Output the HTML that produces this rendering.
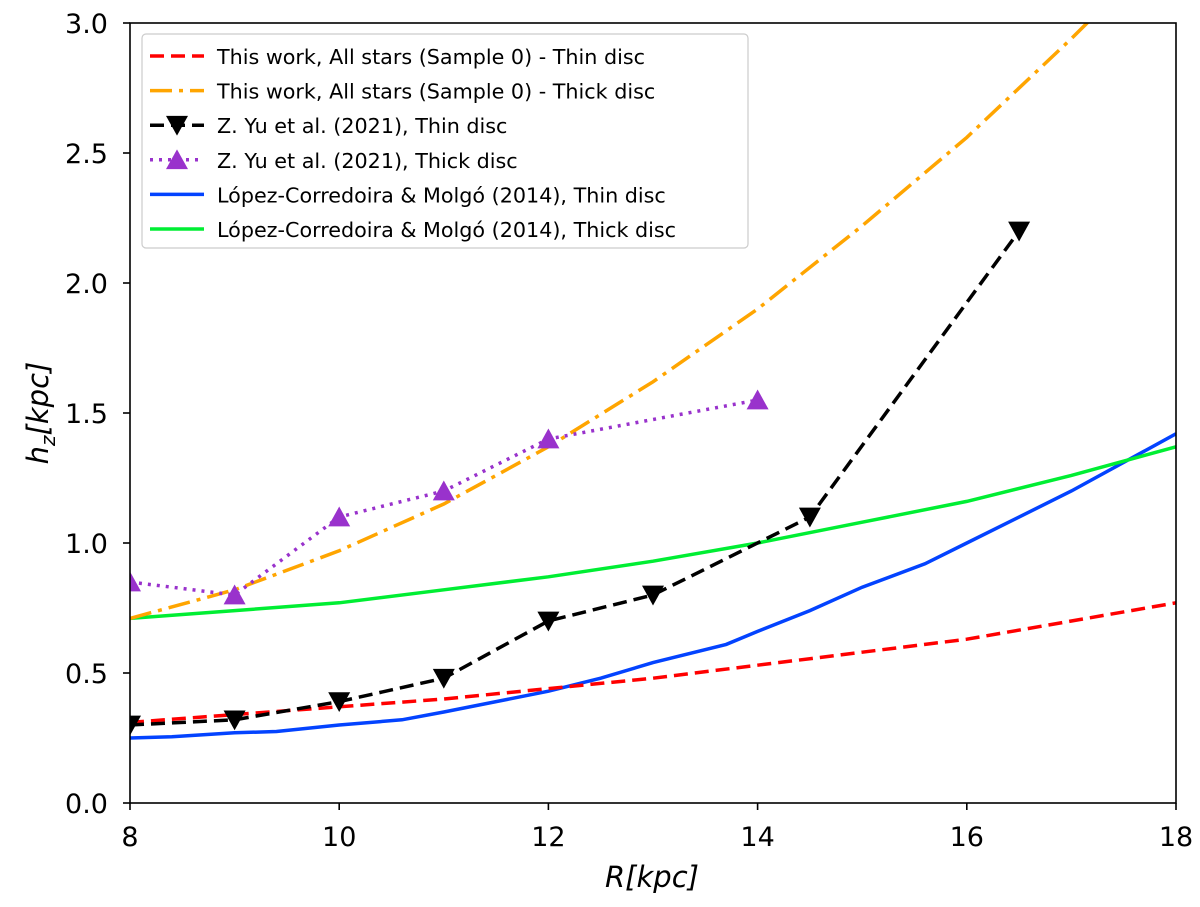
<!DOCTYPE html>
<html><head><meta charset="utf-8"><style>
body{margin:0;background:#fff}
svg text{font-family:"DejaVu Sans","Liberation Sans",sans-serif}
</style></head><body>
<svg id="chart" width="1200" height="902" viewBox="0 0 1200 902" xmlns="http://www.w3.org/2000/svg">
<g id="plot"></g>
<g id="axes"></g>
<g id="legend"></g>
</svg>
<script>
const xTicks=[8,10,12,14,16,18];
const yTicks=[0.0,0.5,1.0,1.5,2.0,2.5,3.0];
const redX=[8,9,10,11,12,13,14,15,16,17,18];
const redY=[0.31,0.34,0.37,0.40,0.44,0.48,0.53,0.58,0.63,0.70,0.77];
const orangeX=[8,9,10,11,12,13,14,15,16,17,17.2];
const orangeY=[0.71,0.82,0.97,1.15,1.37,1.62,1.90,2.22,2.56,2.94,3.02];
const blackX=[8,9,10,11,12,13,14.5,16.5];
const blackY=[0.30,0.32,0.39,0.48,0.70,0.80,1.10,2.20];
const purpleX=[8,9,10,11,12,14];
const purpleY=[0.85,0.80,1.10,1.20,1.40,1.55];
const blueX=[8,8.4,9,9.4,10,10.6,11,12,12.5,13,13.7,14,14.5,15,15.6,16,17,18];
const blueY=[0.25,0.255,0.27,0.275,0.30,0.32,0.35,0.43,0.48,0.54,0.61,0.66,0.74,0.83,0.92,1.0,1.20,1.42];
const greenX=[8,9,10,11,12,13,14,15,16,17,18];
const greenY=[0.71,0.74,0.77,0.82,0.87,0.93,1.0,1.08,1.16,1.26,1.37];
const legendLabels=["This work, All stars (Sample 0) - Thin disc","This work, All stars (Sample 0) - Thick disc","Z. Yu et al. (2021), Thin disc","Z. Yu et al. (2021), Thick disc","López-Corredoira & Molgó (2014), Thin disc","López-Corredoira & Molgó (2014), Thick disc"];

const L=130,R=1176,T=23,B=803;
const sx=v=>L+(v-8)/10*(R-L);
const sy=v=>B-(v/3)*(B-T);
const NS="http://www.w3.org/2000/svg";
function mk(tag,attrs,parent){const e=document.createElementNS(NS,tag);for(const k in attrs)e.setAttribute(k,attrs[k]);parent.appendChild(e);return e;}
const plot=document.getElementById('plot'),axes=document.getElementById('axes'),leg=document.getElementById('legend');
const cp=mk('clipPath',{id:'clip'},plot);
mk('rect',{x:L,y:T,width:R-L,height:B-T},cp);
const series=[
 {n:'thin-disc-this-work',x:redX,y:redY,c:'#ff0000',d:'14 7'},
 {n:'thick-disc-this-work',x:orangeX,y:orangeY,c:'#ffa500',d:'22 7 4 7'},
 {n:'yu-thin-disc',x:blackX,y:blackY,c:'#000',d:'14 7',m:'down'},
 {n:'yu-thick-disc',x:purpleX,y:purpleY,c:'#9932cc',d:'3 6',m:'up'},
 {n:'lopez-thin-disc',x:blueX,y:blueY,c:'#0343ff',d:''},
 {n:'lopez-thick-disc',x:greenX,y:greenY,c:'#00ee33',d:''}];
function tri(x,y,dir,c,p,name){
 const s=11;const pts=dir==='down'?`${x-s},${y-s*0.85} ${x+s},${y-s*0.85} ${x},${y+s*0.95}`:`${x-s},${y+s*0.85} ${x+s},${y+s*0.85} ${x},${y-s*0.95}`;
 const e=mk('polygon',{points:pts,fill:c},p);
 
 
}
const order=[4,5,0,1,2,3];
order.forEach(i=>{const s=series[i];
 const g=mk('g',{'clip-path':'url(#clip)'},plot);
 
 
 const pts=s.x.map((v,j)=>sx(v)+','+sy(s.y[j])).join(' ');
 const pl=mk('polyline',{points:pts,fill:'none',stroke:s.c,'stroke-width':3.5,'stroke-dasharray':s.d},g);
 
 
 if(s.m)s.x.forEach((v,j)=>tri(sx(v),sy(s.y[j]),s.m,s.c,g,s.n+'-marker'));
});
const fr=mk('rect',{x:L,y:T,width:R-L,height:B-T,fill:'none',stroke:'#000','stroke-width':1.6},axes);

xTicks.forEach(v=>{const x=sx(v);mk('line',{x1:x,x2:x,y1:B,y2:B+7,stroke:'#000','stroke-width':1.6},axes);
 const t=mk('text',{x:x,y:846,'font-size':27,'text-anchor':'middle'},axes);t.textContent=v;
 });
yTicks.forEach(v=>{const y=sy(v);mk('line',{x1:L-7,x2:L,y1:y,y2:y,stroke:'#000','stroke-width':1.6},axes);
 const t=mk('text',{x:108,y:y+10,'font-size':27,'text-anchor':'end'},axes);t.textContent=v.toFixed(1);
 });
const xt=mk('text',{x:652,y:887,'font-size':29,'text-anchor':'middle','font-style':'italic'},axes);
xt.textContent='R[kpc]';
const yt=mk('text',{transform:'translate(48,413) rotate(-90)','font-size':29,'text-anchor':'middle','font-style':'italic'},axes);
yt.innerHTML='h<tspan font-size="20" dy="7">z</tspan><tspan dy="-7">[kpc]</tspan>';

const lb=mk('rect',{x:142,y:34,width:606,height:214,rx:4,fill:'#fff','fill-opacity':0.85,stroke:'#ccc','stroke-width':1.2},leg);

legendLabels.forEach((lab,i)=>{const s=series[i];const y=56+i*34.6;
 const g=mk('g',{},leg);
 
 
 mk('line',{x1:150,x2:204,y1:y,y2:y,stroke:s.c,'stroke-width':3.5,'stroke-dasharray':s.d},g);
 if(s.m)tri(177,y,s.m,s.c,g,'legend-marker');
 const t=mk('text',{x:217,y:y+8,'font-size':20.7},g);t.textContent=lab;});
</script>
</body></html>
